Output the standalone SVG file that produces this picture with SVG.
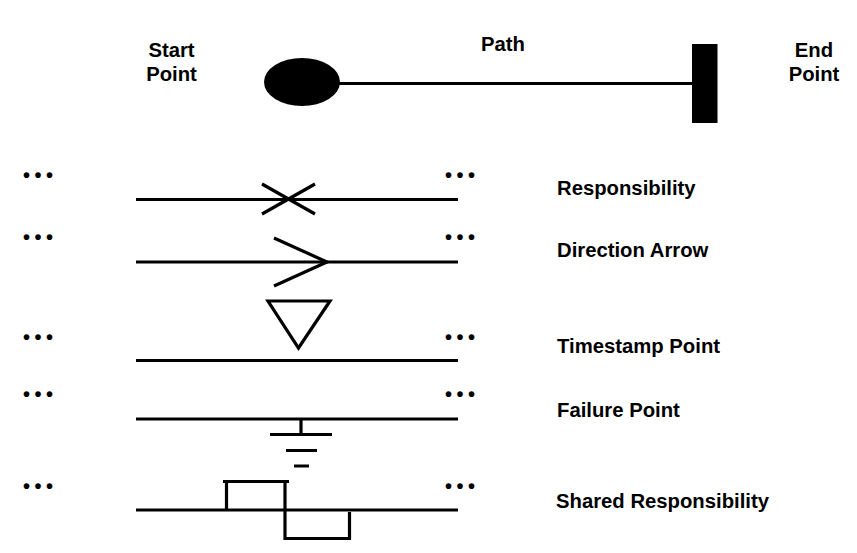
<svg xmlns="http://www.w3.org/2000/svg" width="857" height="553" viewBox="0 0 857 553">
<style>
text{font-family:"Liberation Sans",Arial,sans-serif;font-weight:700;fill:#000;font-size:20.300px}
.m{text-anchor:middle}
.d{font-size:20px;letter-spacing:4.500px}
.l{fill:none;stroke:#000;stroke-width:3.200;stroke-linecap:butt}
</style>
<rect width="857" height="553" fill="#fff"/>
<g id="connectors">
<line class="l" x1="338" y1="83.500" x2="692" y2="83.500"/>
<line class="l" x1="136" y1="199.500" x2="458" y2="199.500"/>
<line class="l" x1="136" y1="262" x2="458" y2="262"/>
<line class="l" x1="136" y1="360.500" x2="458" y2="360.500"/>
<line class="l" x1="136" y1="419" x2="458" y2="419"/>
<line class="l" x1="136" y1="510" x2="458" y2="510"/>
</g>
<g id="start-point"><ellipse cx="302" cy="82" rx="38" ry="24"/><text class="m" x="171.500" y="57">Start</text><text class="m" x="171.500" y="81">Point</text></g>
<g id="path-label"><text class="m" x="503" y="51">Path</text></g>
<g id="end-point"><rect x="692" y="44" width="25.500" height="79"/><text class="m" x="814" y="57">End</text><text class="m" x="814" y="81">Point</text></g>
<g id="responsibility"><path class="l" d="M262 184L315 214M262 214L315 184"/><text x="557" y="195">Responsibility</text></g>
<g id="direction-arrow"><path class="l" d="M274 238L327 262L274 286"/><text x="557" y="257">Direction Arrow</text></g>
<g id="timestamp-point"><path class="l" d="M268 301H330L298.500 348Z"/><text x="557" y="353">Timestamp Point</text></g>
<g id="failure-point"><path class="l" d="M301 419V434M270 434.500H332M286 450.500H317M294 466H309"/><text x="557" y="417">Failure Point</text></g>
<g id="shared-responsibility"><path class="l" d="M226.500 510V481.500M223 481.500H289M285 481.500V538.500H349.500V512"/><text x="556" y="508">Shared Responsibility</text></g>
<g id="ellipses">
<text class="d" x="23" y="182">•••</text><text class="d" x="445" y="182">•••</text>
<text class="d" x="23" y="244">•••</text><text class="d" x="445" y="244">•••</text>
<text class="d" x="23" y="344">•••</text><text class="d" x="445" y="344">•••</text>
<text class="d" x="23" y="401">•••</text><text class="d" x="445" y="401">•••</text>
<text class="d" x="23" y="493">•••</text><text class="d" x="445" y="493">•••</text>
</g>
</svg>
